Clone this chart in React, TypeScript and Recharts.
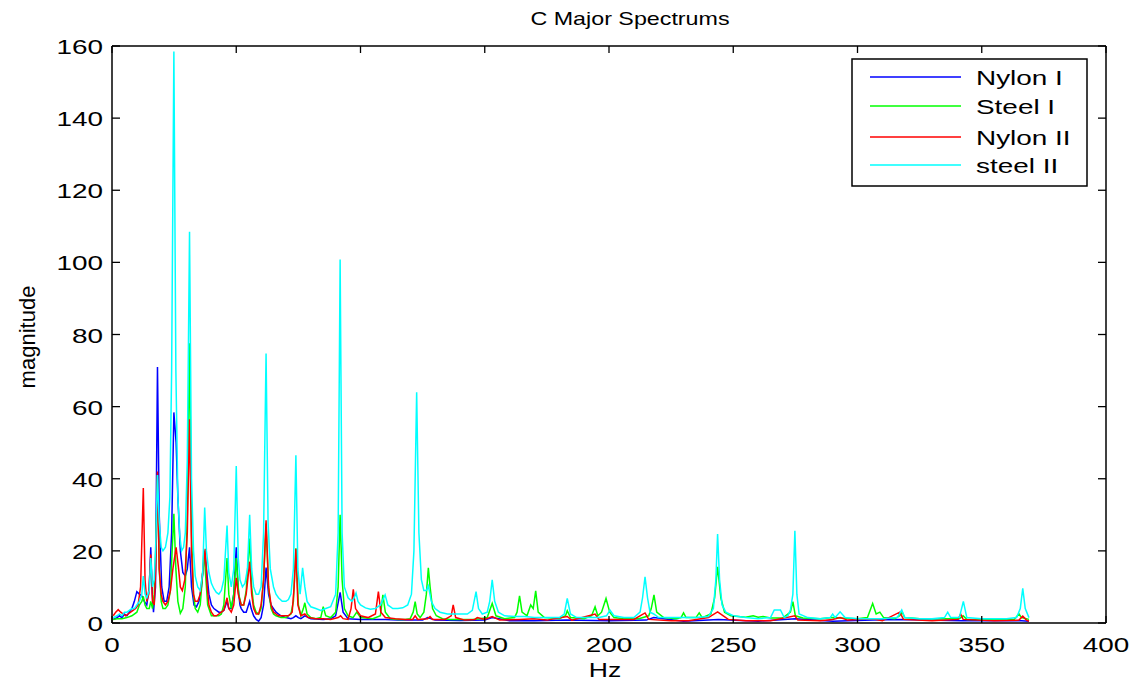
import React from "react";
import { LineChart, Line, XAxis, YAxis } from "recharts";

// tick values
const hzTicks = [0, 50, 100, 150, 200, 250, 300, 350, 400];
const magTicks = [0, 20, 40, 60, 80, 100, 120, 140, 160];

// Nylon I (blue)
const nylonIHz = [0.5, 2, 3, 4, 5, 6, 7, 8, 9, 10, 11, 12, 13, 14, 15, 15.6, 16.2, 16.7, 17.5, 18.3, 19, 20, 21, 22, 23, 24, 24.9, 25.8, 26.5, 27.5, 28.5, 29.5, 30.3, 31.2, 32, 33, 34, 35, 36, 37.3, 38, 39, 40, 41, 42, 43, 44, 45, 46.3, 47, 48, 49, 50, 50.7, 51.5, 52, 53, 54, 55.4, 56, 57, 58, 59, 60, 61, 62, 63, 64, 65, 66, 67, 68, 70, 72, 73, 74, 75, 76, 77.6, 80, 85, 88, 90, 91.8, 93, 95, 100, 105, 110, 115, 120, 125, 127, 130, 140, 150, 153, 160, 170, 183, 200, 215, 218, 230, 244, 260, 275, 290, 306, 318, 342, 366, 369];
const nylonIMag = [1, 1.5, 2, 1.5, 2.5, 2, 3, 4, 6, 8.7, 8, 7.5, 6, 5, 10, 21, 8, 3, 10, 71, 30, 10, 6, 6, 10, 25, 58.4, 50, 35, 20, 14, 13, 15, 21, 10, 5, 4.5, 6, 10, 20, 15, 8, 5, 4, 3.5, 3, 3, 3.5, 6, 4, 4, 8, 21, 10, 5, 4, 3, 3, 6, 4, 2, 1, 0.5, 1.5, 5, 15.4, 8, 5, 4, 3, 2.5, 2, 1.5, 1.2, 1.5, 2, 1.5, 1.2, 2, 1.2, 1, 1.2, 2, 8.5, 3, 1.2, 1, 1, 1, 0.8, 0.8, 0.8, 1.5, 0.8, 0.7, 0.8, 1.5, 0.6, 0.6, 0.8, 0.6, 0.8, 1.5, 0.5, 1, 0.5, 1.2, 0.5, 0.8, 1, 0.6, 0.6, 0.5];

// Steel I (green)
const steelIHz = [0.5, 2, 4, 6, 8, 10, 11, 12, 12.6, 13.3, 14, 15, 15.6, 16.3, 17, 17.6, 18.3, 19, 19.8, 20.5, 21.5, 22.5, 23.5, 24.2, 24.9, 25.7, 26.5, 27.5, 28.5, 29.5, 30.3, 31.2, 32, 32.8, 33.5, 34.5, 35.5, 36.3, 37, 37.8, 38.5, 40, 41, 42, 43, 44, 45, 46.3, 47, 48, 49, 50, 51, 52, 53, 54, 55.4, 56.2, 57, 58, 59, 60, 61, 62, 63, 64, 65, 66, 68, 70, 72, 73, 74, 75, 76, 77, 77.6, 78.5, 80, 82, 84, 85, 86, 88, 90, 91, 91.8, 92.6, 93.5, 95, 97, 98.5, 100, 105, 108, 109, 110, 112, 115, 118, 120, 121.2, 122, 122.8, 124, 125.5, 126.5, 127.3, 128, 129, 130.5, 133, 136, 140, 145, 148, 151, 153, 154.5, 158, 162, 163, 164, 165, 167, 168.5, 169.5, 170.5, 171.5, 174, 180, 182.5, 183.2, 184.5, 190, 193, 194.4, 195.5, 197, 198.8, 200.3, 202, 206, 212, 216, 217, 218.1, 219.2, 222, 227, 229, 230, 231, 235, 236.3, 237.5, 241, 242.5, 243.7, 245, 246.5, 249, 255, 258, 260, 262, 265, 270, 273, 274, 275, 278, 285, 290, 295, 300, 304, 306.1, 307.5, 309, 310.5, 315, 317, 318, 319, 325, 335, 341, 342.5, 344, 355, 363, 365, 366, 369];
const steelIMag = [1, 1.2, 1.2, 1.5, 2, 3, 5, 6, 7.4, 5, 4, 4, 6, 4, 8, 20, 41, 15, 6, 4, 4, 5, 9, 20, 30.3, 15, 6, 2.7, 4, 10, 30, 77.6, 25, 8, 4, 3, 5, 12, 20, 12, 5, 2, 2, 2, 2, 2.5, 5, 18, 8, 4, 8, 18, 8, 5, 5, 9, 23.4, 10, 5, 3, 2.5, 4, 12, 27.6, 10, 4, 2.5, 2, 1.5, 1.5, 2.5, 6, 20.7, 5, 2, 4, 5.6, 2.5, 1.5, 1.2, 1.5, 4.5, 2, 1.5, 3, 10, 30, 12, 4, 2, 1.5, 3, 1.5, 1.2, 2, 7.8, 3, 1.2, 1, 1, 1.2, 3, 5.9, 2.5, 1.5, 3, 8, 15.3, 10, 4, 2, 1.2, 1, 1, 1, 1.2, 1.5, 5.4, 2, 1.2, 1.5, 3, 7.5, 3, 2, 5, 4, 8.9, 3, 1.5, 1.2, 2, 3.4, 1.5, 1.2, 2, 4.5, 2, 3, 6.8, 3, 1.5, 1.2, 1.2, 2, 4, 7.8, 3, 1.5, 1.2, 1.5, 2.8, 1.5, 1.5, 2.8, 1.5, 2.5, 7, 15.6, 7, 3, 2, 1.6, 2, 1.6, 1.8, 1.4, 1.4, 3, 5.9, 2, 1.4, 1.2, 1.5, 1.3, 1.2, 1.5, 5.4, 2.5, 3, 1.5, 1.2, 2, 3, 1.5, 1.2, 1.2, 1.2, 2, 1, 1, 1, 2.5, 1.5, 1];

// Nylon II (red)
const nylonIIHz = [0.5, 1.5, 2.5, 3.5, 4.5, 5.5, 6.5, 7.5, 8.5, 9.5, 10.5, 11.5, 12.6, 13.3, 14, 14.8, 15.6, 16.3, 17, 17.6, 18.3, 19, 19.8, 20.5, 21.5, 22.5, 23.5, 24.5, 25.8, 26.8, 27.5, 28.3, 29.3, 30.3, 31.2, 32, 32.8, 33.5, 34.5, 35.5, 36.5, 37.5, 38.3, 39, 40, 41, 42, 43, 44, 45, 46.3, 47, 48, 49, 50, 50.8, 52, 53, 54, 55.4, 56.2, 57, 58, 59, 60, 61, 62, 63, 64, 65, 66, 67, 69, 71, 72.5, 73.3, 74, 74.8, 76, 77.6, 79, 82, 85, 88, 91, 92, 93, 95, 96.2, 97.1, 98, 100, 103, 106, 107.2, 108.2, 110, 114, 118, 121, 122, 123, 127, 128, 129, 134, 136.5, 137.3, 138.3, 142, 146, 147, 150, 153, 156, 164, 170, 175, 183.2, 185, 194.4, 196, 200, 210, 214.5, 216, 225, 232, 240, 243.7, 246, 248, 255, 265, 274.8, 276, 285, 290, 293, 296, 306, 310, 317, 318.5, 330, 340.5, 341.5, 342.5, 355, 365, 366.5, 368, 369];
const nylonIIMag = [2, 3, 3.7, 3, 2.5, 2, 2.5, 3, 3.5, 4, 5, 10, 37.4, 12, 6, 8, 19, 6, 5, 15, 42, 15, 8, 6, 5, 6, 9, 15, 21, 15, 10, 9, 12, 25, 56.5, 20, 8, 6, 6, 8, 14, 20.6, 10, 5, 3, 2, 2, 2.5, 3, 3.5, 7, 4, 3, 5, 12.5, 8, 5, 5, 8, 17, 8, 4, 2.5, 2.5, 5, 12, 28.5, 10, 5, 3, 2.5, 2, 2, 2, 3, 10, 20.6, 5, 2, 2.5, 1.5, 1.2, 1.2, 1, 1.5, 2, 1.2, 1, 4, 9.3, 4, 2, 1.5, 2.5, 8.7, 3, 1.5, 1.2, 1, 1, 2, 1, 1.2, 1.8, 1, 1, 2, 5, 1.5, 0.8, 1, 1.5, 1, 1.8, 0.8, 1, 1.2, 0.8, 1.8, 0.8, 2.5, 1, 1, 1, 2.8, 1, 0.6, 0.6, 1.5, 3.1, 2, 1, 0.6, 0.6, 2, 0.8, 0.6, 1, 1.5, 0.8, 1.2, 0.6, 3, 1, 0.6, 1, 2.5, 1, 0.6, 0.8, 1.9, 0.8, 0.5];

// steel II (cyan)
const steelIIHz = [0.5, 2, 3, 4, 5, 6, 7, 8, 9, 10, 11, 12, 12.6, 13.3, 14, 15, 15.6, 16.3, 17, 17.6, 18.3, 19, 19.8, 20.5, 21.5, 22.5, 23.3, 24, 24.9, 25.7, 26.5, 27.3, 28, 28.8, 29.5, 30.3, 31.2, 32, 32.8, 33.5, 34.5, 35.5, 36.5, 37.3, 38, 39, 40, 41, 42, 43, 44, 45, 46.3, 47, 48, 49, 50, 50.8, 51.5, 52.5, 53.5, 54.5, 55.4, 56.2, 57, 58, 59, 60, 61, 62, 62.8, 63.7, 65, 66, 67, 68.5, 70, 71, 72, 73, 74, 74.8, 75.7, 76.7, 77.6, 78.5, 80, 82, 84, 86, 88, 90, 91, 91.8, 92.6, 93.5, 95, 96.5, 97.5, 98.2, 99, 100, 102, 104, 106, 108, 109.9, 111, 113, 115, 117, 119, 120.5, 121.5, 122.6, 123.5, 124.5, 125.5, 126.5, 127.3, 128.5, 130, 132, 135, 138, 140, 143, 145, 146.5, 147.5, 149, 151, 152, 153, 154, 155.5, 158, 162, 166, 170, 175, 180, 182, 183.2, 184.5, 187, 192, 196, 199, 200.4, 202, 206, 210, 212.5, 213.5, 214.5, 215.5, 216.5, 218, 220, 225, 230, 235, 240, 242, 243, 243.7, 244.5, 245.5, 247, 250, 255, 260, 265, 266.5, 269, 270.5, 272, 273, 274, 274.8, 275.6, 276.5, 280, 285, 289, 290, 291, 293, 295, 300, 305, 310, 316, 317.8, 319, 325, 330, 335, 336.3, 337.5, 341, 342.6, 344, 350, 355, 360, 364, 365.5, 366.5, 367.5, 369];
const steelIIMag = [1.5, 2, 2.5, 2, 3, 3, 3.5, 4, 4, 5, 6, 8, 13, 8, 7, 9, 18, 10, 12, 22, 41, 28, 21, 20, 21, 25, 35, 70, 158.5, 70, 35, 24, 20, 21, 25, 45, 108.5, 40, 20, 13, 10, 9, 14, 32, 20, 14, 11, 9.5, 8.5, 8, 9, 12, 27, 14, 10, 15, 43.5, 18, 12, 10, 11, 15, 30, 15, 10, 8, 8, 10, 25, 74.7, 28, 15, 10, 8, 7, 6, 6, 6.5, 8, 15, 46.5, 15, 8, 15.3, 10, 6, 4.5, 4, 3.5, 4, 4.5, 8, 25, 100.8, 25, 10, 7, 6, 7, 8.3, 6, 5, 4.2, 3.8, 4, 5, 7.8, 5, 4, 4, 4.2, 5, 8, 20, 64, 25, 12, 9, 9, 10.3, 6, 4, 3, 2.5, 2.5, 2.5, 2.5, 3.5, 8.7, 4, 2.5, 3, 6, 12, 6, 3, 2, 1.8, 1.8, 1.5, 1.5, 1.5, 2.5, 6.8, 2.5, 1.5, 1.5, 1.5, 2, 3.6, 2, 1.5, 1.5, 3, 7, 12.8, 7, 3, 2.5, 1.5, 1.5, 1.5, 1.5, 1.8, 4, 12, 24.7, 12, 5, 3, 2, 1.5, 1.2, 1.5, 3.6, 3.6, 1.5, 2, 3.6, 8, 25.6, 8, 2.5, 1.5, 1.2, 1.5, 2.5, 1.5, 3.1, 1.5, 1.2, 1.2, 1.2, 1.5, 3.6, 1.5, 1.2, 1.2, 1.5, 3, 1.5, 1.5, 6, 1.5, 1.2, 1.2, 1.2, 1.5, 4, 9.6, 4, 1.5];

const toRows = (hz: number[], mag: number[]) => hz.map((h, i) => ({ hz: h, mag: mag[i] }));

const series = [
  { name: "Nylon I", color: "#0000ff", data: toRows(nylonIHz, nylonIMag) },
  { name: "Steel I", color: "#00ff00", data: toRows(steelIHz, steelIMag) },
  { name: "Nylon II", color: "#ff0000", data: toRows(nylonIIHz, nylonIIMag) },
  { name: "steel II", color: "#00ffff", data: toRows(steelIIHz, steelIIMag) },
];

const FONT = "'Liberation Sans', Arial, Helvetica, sans-serif";
const PLOT_W = 994;
const PLOT_H = 577;

// MATLAB figure text looks horizontally stretched
function WideText({ x, y, anchor = "start", size = 21, children }: any) {
  return (
    <text
      transform={`translate(${x},${y}) scale(1.33,1)`}
      textAnchor={anchor}
      fontSize={size}
      fontFamily={FONT}
      fill="#000"
    >
      {children}
    </text>
  );
}

// bottom tick also mirrors an inward tick on the top edge (box on)
const BottomTick = ({ x, y, payload }: any) => (
  <g>
    <line x1={x} x2={x} y1={y} y2={y - 7} stroke="#000" strokeWidth={1.3} />
    <line x1={x} x2={x} y1={y - PLOT_H} y2={y - PLOT_H + 7} stroke="#000" strokeWidth={1.3} />
    <WideText x={x} y={y + 29} anchor="middle">{payload.value}</WideText>
  </g>
);
// left tick also mirrors an inward tick on the right edge
const LeftTick = ({ x, y, payload }: any) => (
  <g>
    <line x1={x} x2={x + 8} y1={y} y2={y} stroke="#000" strokeWidth={1.3} />
    <line x1={x + PLOT_W} x2={x + PLOT_W - 8} y1={y} y2={y} stroke="#000" strokeWidth={1.3} />
    <WideText x={x - 9} y={y + 8} anchor="end">{payload.value}</WideText>
  </g>
);

export default function App() {
  const axisLine = { stroke: "#000", strokeWidth: 1.5 };
  return (
    <div style={{ position: "absolute", left: 0, top: 0, width: 1139, height: 680, background: "#fff" }}>
      <LineChart width={1139} height={680} margin={{ top: 36, right: 23, bottom: 0, left: 0 }}>
        <XAxis xAxisId="b" type="number" dataKey="hz" domain={[0, 400]} ticks={hzTicks} interval={0}
          height={57} tickSize={0} tickMargin={0} tickLine={false} axisLine={axisLine} tick={<BottomTick />} />
        <XAxis xAxisId="t" orientation="top" type="number" domain={[0, 400]}
          height={10} tick={false} tickLine={false} axisLine={axisLine} />
        <YAxis yAxisId="l" type="number" domain={[0, 160]} ticks={magTicks} interval={0}
          width={112} tickSize={0} tickMargin={0} tickLine={false} axisLine={axisLine} tick={<LeftTick />} />
        <YAxis yAxisId="r" orientation="right" type="number" domain={[0, 160]}
          width={10} tick={false} tickLine={false} axisLine={axisLine} />
        {series.map((s) => (
          <Line key={s.name} xAxisId="b" yAxisId="l" data={s.data} dataKey="mag" name={s.name}
            type="linear" stroke={s.color} strokeWidth={1.5} dot={false} isAnimationActive={false} />
        ))}
      </LineChart>
      <svg width={1139} height={680} style={{ position: "absolute", left: 0, top: 0, pointerEvents: "none" }}>
        <WideText x={630} y={25} anchor="middle" size={17.5}>C Major Spectrums</WideText>
        <WideText x={605} y={677} anchor="middle" size={20}>Hz</WideText>
        <text transform="translate(35,337) rotate(-90)" textAnchor="middle" fontSize={22} fontFamily={FONT}>
          magnitude
        </text>
        <rect x={852} y={59} width={235} height={127} fill="#fff" stroke="#000" strokeWidth={1.5} />
        {series.map((s, i) => {
          const ly = [77, 106, 137, 165][i];
          return (
            <g key={s.name}>
              <line x1={870} x2={961} y1={ly} y2={ly} stroke={s.color} strokeWidth={1.3} />
              <WideText x={976} y={ly + 8}>{s.name}</WideText>
            </g>
          );
        })}
      </svg>
    </div>
  );
}
